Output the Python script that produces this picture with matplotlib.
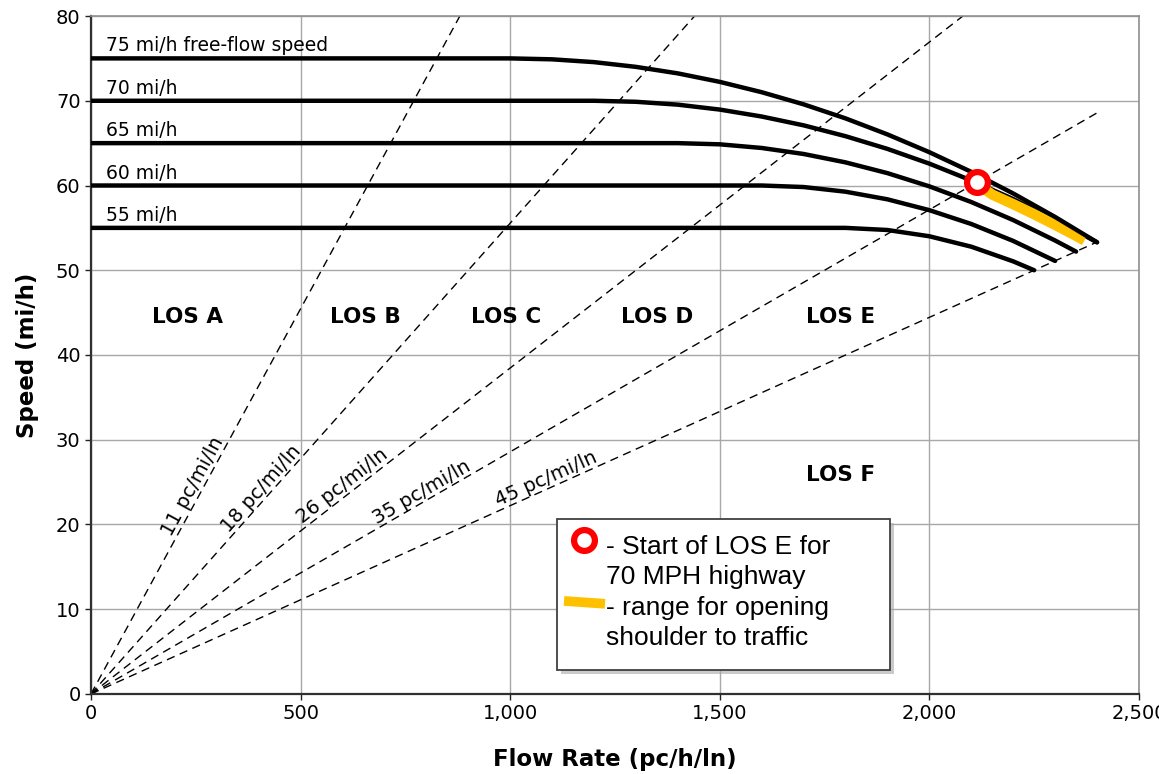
import matplotlib
matplotlib.use("Agg")
import matplotlib.pyplot as plt
from matplotlib.patches import Rectangle
import numpy as np

# ---- data ----
ffs_labels = ["75 mi/h free-flow speed", "70 mi/h", "65 mi/h", "60 mi/h", "55 mi/h"]
flow_75 = [0, 1000, 1100, 1200, 1300, 1400, 1500, 1600, 1700, 1800, 1900, 2000, 2100, 2200, 2300, 2400]
speed_75 = [75, 75, 74.89, 74.56, 74.00, 73.23, 72.23, 71.01, 69.58, 67.92, 66.03, 63.93, 61.61, 59.06, 56.29, 53.30]
flow_70 = [0, 1200, 1300, 1400, 1500, 1600, 1700, 1800, 1900, 2000, 2100, 2200, 2300, 2400]
speed_70 = [70, 70, 69.88, 69.54, 68.96, 68.14, 67.10, 65.82, 64.32, 62.58, 60.60, 58.40, 55.96, 53.30]
flow_65 = [0, 1400, 1500, 1600, 1700, 1800, 1900, 2000, 2100, 2200, 2300, 2350]
speed_65 = [65, 65, 64.86, 64.43, 63.72, 62.73, 61.46, 59.90, 58.05, 55.92, 53.51, 52.20]
flow_60 = [0, 1600, 1700, 1800, 1900, 2000, 2100, 2200, 2300]
speed_60 = [60, 60, 59.82, 59.27, 58.37, 57.09, 55.46, 53.46, 51.10]
flow_55 = [0, 1800, 1900, 2000, 2100, 2200, 2250]
speed_55 = [55, 55, 54.75, 54.01, 52.78, 51.05, 50.00]

densities = ["11 pc/mi/ln", "18 pc/mi/ln", "26 pc/mi/ln", "35 pc/mi/ln", "45 pc/mi/ln"]
density_end_flow = [880, 1440, 2080, 2400, 2400]
density_end_speed = [80, 80, 80, 68.57, 53.33]
density_label_flow = [264, 423, 614, 800, 1095]

los_labels = ["LOS A", "LOS B", "LOS C", "LOS D", "LOS E", "LOS F"]
los_x = [231, 654, 990, 1350, 1787, 1789]
los_y = [44.5, 44.5, 44.5, 44.5, 44.5, 25.8]

start_E_flow = 2113
start_E_speed = 60.37
shoulder_flow = [2113, 2150, 2200, 2250, 2300, 2350, 2370]
shoulder_speed = [60.2, 58.93, 57.80, 56.61, 55.36, 54.06, 53.52]

xticks = [0, 500, 1000, 1500, 2000, 2500]
xtick_labels = ["0", "500", "1,000", "1,500", "2,000", "2,500"]
yticks = [0, 10, 20, 30, 40, 50, 60, 70, 80]

# ---- figure ----
fig = plt.figure(figsize=(11.59, 7.74), dpi=100)
ax = fig.add_axes([0.0785, 0.1034, 0.9042, 0.8759])
ax.set_xlim(0, 2500)
ax.set_ylim(0, 80)

ax.set_xticks(xticks)
ax.set_xticklabels(xtick_labels)
ax.set_yticks(yticks)
ax.tick_params(labelsize=14, length=4, width=1, colors="#222222", labelcolor="black")
ax.grid(True, color="#a8a8a8", lw=1.0)
ax.set_axisbelow(True)
for s in ["top", "right"]:
    ax.spines[s].set_color("#909090")
    ax.spines[s].set_linewidth(1.2)
for s in ["left", "bottom"]:
    ax.spines[s].set_color("#303030")
    ax.spines[s].set_linewidth(1.6)

ax.set_xlabel("Flow Rate (pc/h/ln)", fontsize=16.5, fontweight="bold", labelpad=18)
ax.set_ylabel("Speed (mi/h)", fontsize=16.5, fontweight="bold", labelpad=12)

# density lines
for lab, fe, se, lf in zip(densities, density_end_flow, density_end_speed, density_label_flow):
    ax.plot([0, fe], [0, se], color="black", lw=1.0, ls=(0, (6, 4)), zorder=2)
    slope = se / fe
    ang = np.degrees(np.arctan2(se, fe))
    ax.text(lf, lf * slope, lab, rotation=ang, transform_rotates_text=True,
            rotation_mode="anchor", ha="center", va="bottom", fontsize=14, zorder=3)

# speed-flow curves
curves = [(flow_75, speed_75, 5), (flow_70, speed_70, 3), (flow_65, speed_65, 3),
          (flow_60, speed_60, 3), (flow_55, speed_55, 3)]
for (fx, sy, z), lab in zip(curves, ffs_labels):
    ax.plot(fx, sy, color="black", lw=3.2, solid_capstyle="round", zorder=z)
    ax.text(36, sy[0] + 0.35, lab, fontsize=13.5, va="bottom", ha="left", zorder=6)

# shoulder range
ax.plot(shoulder_flow, shoulder_speed, color="#FFC000", lw=7.5, solid_capstyle="butt", zorder=4)
# start of LOS E
ax.plot([start_E_flow], [start_E_speed], marker="o", ms=15, mfc="white", mec="#FF0000",
        mew=4.5, zorder=7, ls="none")

# LOS labels
for lab, x, y in zip(los_labels, los_x, los_y):
    ax.text(x, y, lab, fontsize=15.5, fontweight="bold", ha="center", va="center", zorder=6)

# legend box
bx0, by0, bw, bh = 0.4447, 0.0354, 0.3178, 0.2226
shadow = Rectangle((bx0 + 0.004, by0 - 0.006), bw, bh, transform=ax.transAxes,
                   facecolor="#a8a8a8", edgecolor="none", zorder=8, alpha=0.6)
box = Rectangle((bx0, by0), bw, bh, transform=ax.transAxes,
                facecolor="white", edgecolor="#404040", lw=1.3, zorder=9)
ax.add_patch(shadow)
ax.add_patch(box)

lfont = dict(fontsize=19, family="Liberation Sans", zorder=10, transform=ax.transAxes,
             ha="left", va="center")
tx = 0.4914
ax.text(tx, 0.2162, "- Start of LOS E for", **lfont)
ax.text(tx, 0.1720, "70 MPH highway", **lfont)
ax.text(tx, 0.1263, "- range for opening", **lfont)
ax.text(tx, 0.0820, "shoulder to traffic", **lfont)
ax.plot([0.4701], [0.2265], marker="o", ms=15, mfc="white", mec="#FF0000", mew=4.5,
        transform=ax.transAxes, zorder=10, ls="none", clip_on=False)
ax.plot([0.4514, 0.4905], [0.1372, 0.1330], color="#FFC000", lw=7, solid_capstyle="butt",
        transform=ax.transAxes, zorder=10, clip_on=False)

fig.savefig("out.png", dpi=100)
